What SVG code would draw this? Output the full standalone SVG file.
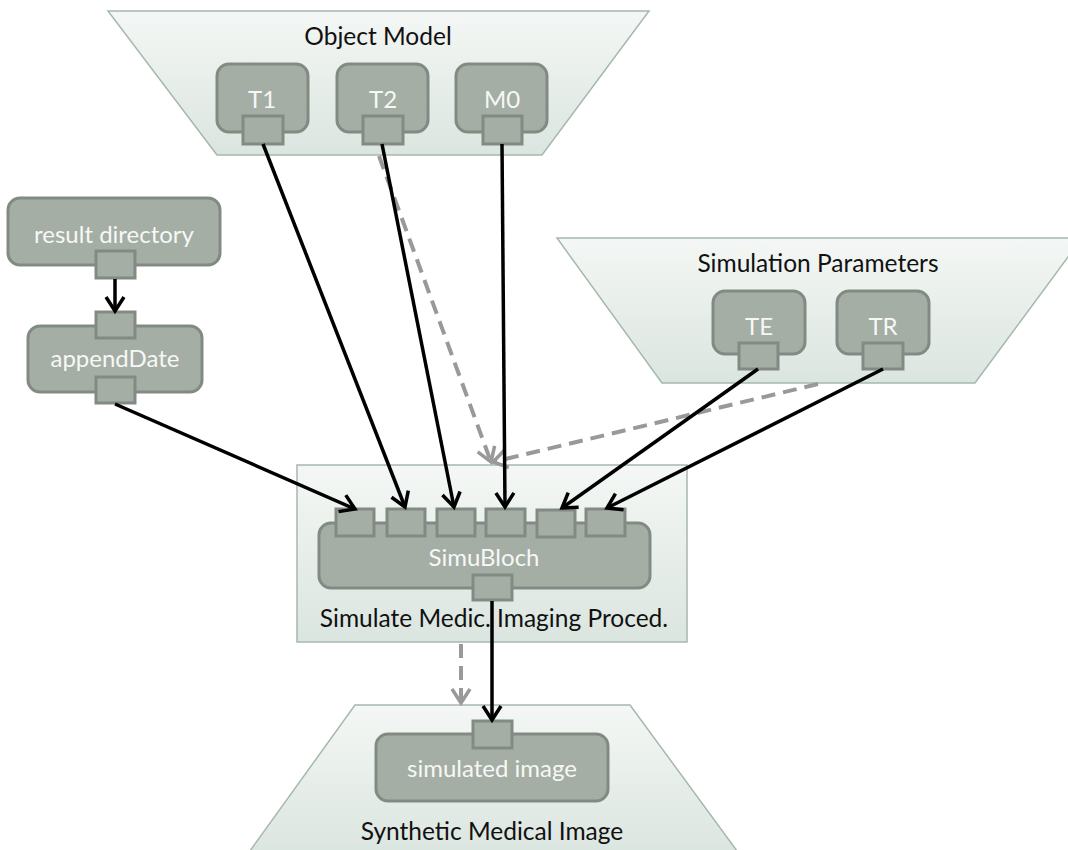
<svg xmlns="http://www.w3.org/2000/svg" width="1068" height="850" viewBox="0 0 1068 850">
<defs>
<linearGradient id="grp" x1="0" y1="0" x2="0" y2="1">
<stop offset="0" stop-color="#f4f7f5"/>
<stop offset="1" stop-color="#dbe5df"/>
</linearGradient>
<marker id="ah" markerUnits="userSpaceOnUse" orient="auto" markerWidth="30" markerHeight="30" refX="0" refY="0" viewBox="-20 -15 30 30" overflow="visible">
<path d="M-14,-9 L0,0 L-14,9" fill="none" stroke="#000" stroke-width="3.5"/>
</marker>
<marker id="ahg" markerUnits="userSpaceOnUse" orient="auto" markerWidth="30" markerHeight="30" refX="0" refY="0" viewBox="-20 -15 30 30" overflow="visible">
<path d="M-14,-9 L0,0 L-14,9" fill="none" stroke="#999" stroke-width="3.5"/>
</marker>
</defs>
<style>
.grp{fill:url(#grp);stroke:#a6b8ac;stroke-width:1.5}
.nd{fill:#a4aea4;stroke:#818b83;stroke-width:3}
.pt{fill:#a4aea4;stroke:#818b83;stroke-width:3}
.nl{font-family:Lato,"Open Sans",sans-serif;font-size:24px;fill:#f7f7f7;text-anchor:middle}
.gl{font-family:Lato,"Open Sans",sans-serif;font-size:24.5px;fill:#111;text-anchor:middle}
.c{fill:none;stroke:#000;stroke-width:3.5;marker-end:url(#ah)}
.d{fill:none;stroke:#999;stroke-width:4;stroke-dasharray:14 8;marker-end:url(#ahg)}
</style>
<g id="object-model">
<polygon class="grp" points="108,11 649,11 542,155 217,155"/>
<text class="gl" x="378" y="45">Object Model</text>
</g>
<g id="simulation-parameters">
<polygon class="grp" points="557,238 1082,238 975,383 662,383"/>
<text class="gl" x="818" y="272">Simulation Parameters</text>
</g>
<g id="simulate-container">
<rect class="grp" x="297" y="465" width="390" height="177"/>
<text class="gl" x="494" y="627">Simulate Medic. Imaging Proced.</text>
</g>
<g id="synthetic-medical-image">
<polygon class="grp" points="355,705 630,705 740,855 247,855"/>
<text class="gl" x="492" y="840">Synthetic Medical Image</text>
</g>
<g id="T1">
<rect class="nd" x="217" y="64" width="91" height="68" rx="12"/>
<text class="nl" x="262" y="108">T1</text>
<rect class="pt" x="243" y="116" width="40" height="28"/>
</g>
<g id="T2">
<rect class="nd" x="337" y="64" width="91" height="68" rx="12"/>
<text class="nl" x="383" y="108">T2</text>
<rect class="pt" x="363" y="116" width="40" height="28"/>
</g>
<g id="M0">
<rect class="nd" x="456" y="64" width="91" height="68" rx="12"/>
<text class="nl" x="502" y="108">M0</text>
<rect class="pt" x="483" y="116" width="39" height="28"/>
</g>
<g id="result-directory">
<rect class="nd" x="8" y="198" width="212" height="67" rx="12"/>
<text class="nl" x="114" y="243">result directory</text>
<rect class="pt" x="96" y="251" width="39" height="27"/>
</g>
<g id="appendDate">
<rect class="nd" x="28" y="326" width="174" height="66" rx="12"/>
<text class="nl" x="115" y="367">appendDate</text>
<rect class="pt" x="96" y="312" width="39" height="26"/>
<rect class="pt" x="96" y="377" width="39" height="26"/>
</g>
<g id="TE">
<rect class="nd" x="713" y="291" width="92" height="63" rx="12"/>
<text class="nl" x="759" y="335">TE</text>
<rect class="pt" x="739" y="343" width="39" height="26"/>
</g>
<g id="TR">
<rect class="nd" x="837" y="291" width="92" height="63" rx="12"/>
<text class="nl" x="883" y="335">TR</text>
<rect class="pt" x="863" y="343" width="40" height="26"/>
</g>
<g id="SimuBloch">
<rect class="nd" x="319" y="523" width="331" height="65" rx="12"/>
<text class="nl" x="484" y="566">SimuBloch</text>
<rect class="pt" x="336" y="509" width="38" height="27"/>
<rect class="pt" x="387" y="509" width="38" height="27"/>
<rect class="pt" x="437" y="509" width="38" height="27"/>
<rect class="pt" x="486" y="509" width="39" height="27"/>
<rect class="pt" x="537" y="510" width="38" height="27"/>
<rect class="pt" x="586" y="509" width="39" height="27"/>
<rect class="pt" x="473" y="575" width="39" height="25"/>
</g>
<g id="simulated-image">
<rect class="nd" x="376" y="734" width="232" height="67" rx="12"/>
<text class="nl" x="492" y="777">simulated image</text>
<rect class="pt" x="473" y="721" width="39" height="27"/>
</g>
<g id="connectors">
<line class="d" x1="379" y1="156" x2="491" y2="462"/>
<line class="d" x1="818" y1="384" x2="493" y2="462"/>
<line class="d" x1="461" y1="644" x2="461" y2="703"/>
<line class="c" x1="115" y1="279" x2="115" y2="311"/>
<line class="c" x1="115" y1="404" x2="355" y2="509"/>
<line class="c" x1="263" y1="144" x2="405" y2="507"/>
<line class="c" x1="382" y1="144" x2="454" y2="507"/>
<line class="c" x1="502" y1="144" x2="505" y2="507"/>
<line class="c" x1="758" y1="369" x2="562" y2="508"/>
<line class="c" x1="883" y1="369" x2="607" y2="508"/>
<line class="c" x1="492" y1="601" x2="492" y2="720"/>
</g>
</svg>
